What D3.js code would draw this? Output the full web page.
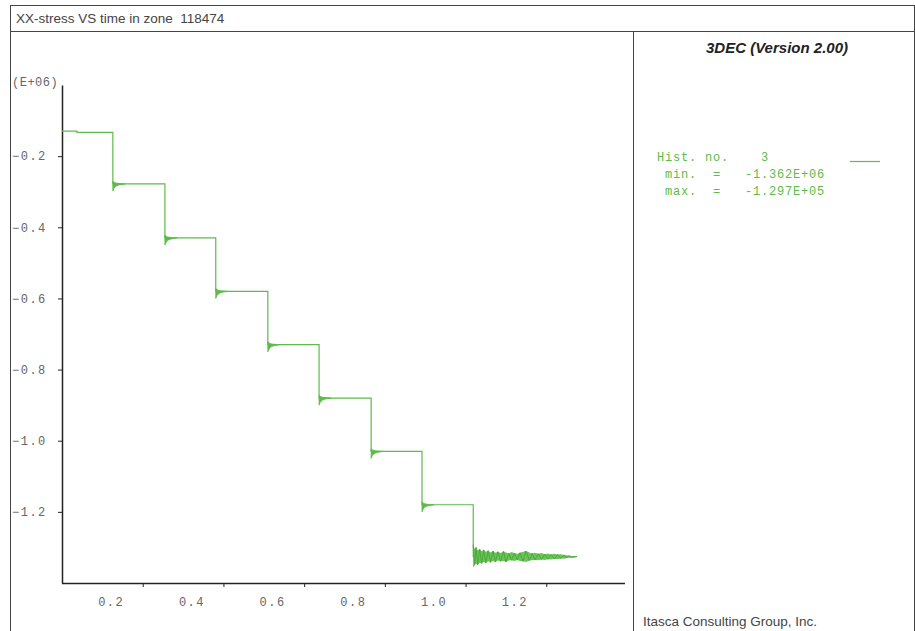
<!DOCTYPE html>
<html>
<head>
<meta charset="utf-8">
<script src="https://cdn.jsdelivr.net/npm/d3@7"></script>
<style>
  body { margin: 0; background: #fff; }
  svg { display: block; }
</style>
</head>
<body>
<div id="chart"></div>
<script>
// step history of XX-stress (E+06) vs time
const stepTimes  = [0, 0.037, 0.126, 0.255, 0.381, 0.510, 0.637, 0.766, 0.892, 1.019, 1.276];
const stepValues = [-0.1297, -0.133, -0.278, -0.430, -0.580, -0.730, -0.880, -1.030, -1.180, -1.326, -1.326];

// short ringing after each load step (time offset, amplitude)
const ringOffsets = [0, 0.003, 0.006, 0.010, 0.015, 0.022, 0.030];
const ringAmps    = [0.020, 0.012, 0.008, 0.005, 0.003, 0.0015, 0];

// last stage oscillation band
const finalTimes = [1.019, 1.022, 1.026, 1.030, 1.035, 1.040, 1.045, 1.050, 1.056, 1.062, 1.068, 1.074, 1.080, 1.087, 1.094, 1.100, 1.107, 1.114, 1.121, 1.128, 1.135, 1.142, 1.150, 1.158, 1.165, 1.172, 1.180, 1.188, 1.196, 1.204, 1.212, 1.220, 1.228, 1.236, 1.244, 1.250, 1.256, 1.262, 1.276];
const finalHiAmp = [0.034, 0.022, 0.026, 0.018, 0.021, 0.015, 0.019, 0.014, 0.017, 0.012, 0.016, 0.011, 0.014, 0.010, 0.015, 0.012, 0.009, 0.013, 0.010, 0.008, 0.011, 0.014, 0.016, 0.012, 0.009, 0.011, 0.008, 0.010, 0.007, 0.009, 0.006, 0.008, 0.006, 0.007, 0.005, 0.004, 0.003, 0.002, 0.001];
const finalLoAmp = [0.032, 0.024, 0.020, 0.023, 0.017, 0.019, 0.014, 0.018, 0.013, 0.016, 0.012, 0.015, 0.011, 0.013, 0.012, 0.015, 0.011, 0.010, 0.012, 0.009, 0.012, 0.013, 0.015, 0.011, 0.010, 0.009, 0.010, 0.008, 0.009, 0.007, 0.008, 0.006, 0.007, 0.005, 0.006, 0.004, 0.003, 0.002, 0.001];
const finalCenter = -1.326;

const xTicks = [0.2, 0.4, 0.6, 0.8, 1.0, 1.2];
const yTicks = [-0.2, -0.4, -0.6, -0.8, -1.0, -1.2];

const width = 915, height = 631;
const green = "#5dbb4a";

const svg = d3.select("#chart").append("svg")
    .attr("width", width)
    .attr("height", height);

// frame
svg.append("rect")
    .attr("x", 10.5).attr("y", 5.5)
    .attr("width", 904).attr("height", 640)
    .attr("fill", "none").attr("stroke", "#444");
svg.append("line")
    .attr("x1", 10).attr("x2", 915).attr("y1", 31.5).attr("y2", 31.5)
    .attr("stroke", "#444");
svg.append("line")
    .attr("x1", 633.5).attr("x2", 633.5).attr("y1", 32).attr("y2", 631)
    .attr("stroke", "#444");

svg.append("text")
    .attr("x", 16).attr("y", 23)
    .style("font-family", "Liberation Sans, Arial, sans-serif")
    .style("font-size", "13.5px")
    .attr("fill", "#444")
    .attr("xml:space", "preserve")
    .text("XX-stress VS time in zone  118474");

// scales
const x = d3.scaleLinear().domain([0, 1.4]).range([62, 627]);
const y = d3.scaleLinear().domain([-1.4, 0]).range([583, 85]);

// axes
const xAxis = svg.append("g")
    .attr("transform", "translate(0,583)")
    .call(d3.axisBottom(x).tickValues(xTicks).tickSize(4).tickSizeOuter(0).tickFormat(d3.format(".1f")));
xAxis.select(".domain").attr("d", `M${x(0)},0.5H625`).attr("stroke", "#222").attr("stroke-width", 1.5);
xAxis.selectAll(".tick line").attr("stroke", "#222");
xAxis.selectAll(".tick text")
    .attr("x", -32).attr("y", 14)
    .style("font-family", "Liberation Mono, Courier New, monospace")
    .style("font-size", "12px")
    .style("letter-spacing", "1.5px")
    .attr("fill", "#666");

const yAxis = svg.append("g")
    .attr("transform", "translate(62,0)")
    .call(d3.axisLeft(y).tickValues(yTicks).tickSize(4).tickSizeOuter(0).tickFormat(d3.format(".1f")));
yAxis.select(".domain").attr("stroke", "#222").attr("stroke-width", 1.5);
yAxis.selectAll(".tick line").attr("stroke", "#222");
yAxis.selectAll(".tick text")
    .attr("text-anchor", "start").attr("x", -50)
    .style("font-family", "Liberation Mono, Courier New, monospace")
    .style("font-size", "12px")
    .style("letter-spacing", "1.5px")
    .attr("fill", "#666");

svg.append("text")
    .attr("x", 12).attr("y", 86)
    .style("font-family", "Liberation Mono, Courier New, monospace")
    .style("font-size", "12px")
    .style("letter-spacing", "0.5px")
    .attr("fill", "#666")
    .text("(E+06)");

// step line
const stepData = stepTimes.map((t, i) => ({ t, v: stepValues[i] }));
svg.append("path")
    .datum(stepData)
    .attr("fill", "none")
    .attr("stroke", green)
    .attr("stroke-width", 1.2)
    .attr("d", d3.line().x(d => x(d.t)).y(d => y(d.v)).curve(d3.curveStepAfter));

// ringing after each intermediate step
const bandArea = d3.area().x(d => x(d.t)).y0(d => y(d.lo)).y1(d => y(d.hi));
for (let k = 2; k <= 8; k++) {
    const t0 = stepTimes[k], lvl = stepValues[k];
    const ring = ringOffsets.map((o, i) => ({ t: t0 + o, lo: lvl - ringAmps[i], hi: lvl + ringAmps[i] * 0.4 }));
    svg.append("path").datum(ring)
        .attr("fill", green).attr("stroke", green).attr("stroke-width", 0.8)
        .attr("d", bandArea);
}

// final oscillation band
const finalData = finalTimes.map((t, i) => ({ t, lo: finalCenter - finalLoAmp[i], hi: finalCenter + finalHiAmp[i] }));
svg.append("path").datum(finalData)
    .attr("fill", "#6cc35a")
    .attr("d", bandArea);
const zig = finalData.map((d, i) => ({ t: d.t, v: i % 2 ? d.lo : d.hi }));
svg.append("path").datum(zig)
    .attr("fill", "none").attr("stroke", "#4aaa38").attr("stroke-width", 1)
    .attr("d", d3.line().x(d => x(d.t)).y(d => y(d.v)));

// right panel
svg.append("text")
    .attr("x", 777).attr("y", 53)
    .attr("text-anchor", "middle")
    .style("font-family", "Liberation Sans, Arial, sans-serif")
    .style("font-size", "15px")
    .style("font-weight", "bold")
    .style("font-style", "italic")
    .attr("fill", "#222")
    .text("3DEC (Version 2.00)");

const legendLines = ["Hist. no.    3", " min.  =   -1.362E+06", " max.  =   -1.297E+05"];
svg.append("g").selectAll("text")
    .data(legendLines)
    .join("text")
    .attr("x", 657)
    .attr("y", (d, i) => 161 + i * 17)
    .attr("xml:space", "preserve")
    .style("font-family", "Liberation Mono, Courier New, monospace")
    .style("font-size", "12px")
    .style("letter-spacing", "0.8px")
    .attr("fill", green)
    .text(d => d);
svg.append("line")
    .attr("x1", 850).attr("x2", 880).attr("y1", 161.5).attr("y2", 161.5)
    .attr("stroke", green).attr("stroke-width", 1.2);

svg.append("text")
    .attr("x", 643).attr("y", 626)
    .style("font-family", "Liberation Sans, Arial, sans-serif")
    .style("font-size", "13.5px")
    .attr("fill", "#444")
    .text("Itasca Consulting Group, Inc.");
</script>
</body>
</html>
